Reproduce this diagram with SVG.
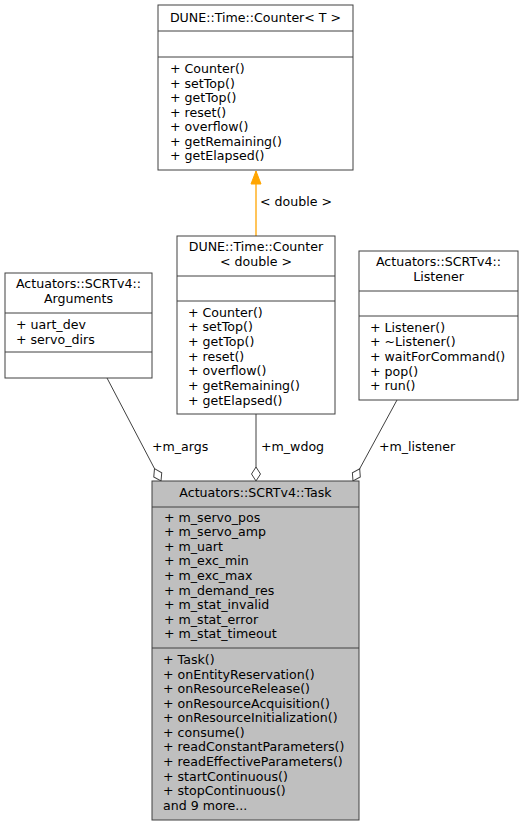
<svg xmlns="http://www.w3.org/2000/svg" width="523" height="827" viewBox="0 0 523 827">
<style>
text{font-family:"DejaVu Sans","Liberation Sans",sans-serif;font-size:12.6px;fill:#000}
.c{text-anchor:middle}
.box{fill:#fff;stroke:#404040;stroke-width:1}
.task{fill:#bfbfbf;stroke:#404040;stroke-width:1}
.sep{stroke:#404040;stroke-width:1}
.edge{fill:none;stroke:#404040;stroke-width:1}
.inh{fill:none;stroke:#ffa500;stroke-width:1.3}
</style>
<defs>
<marker id="odiamond" markerUnits="userSpaceOnUse" viewBox="-1 -1 16 12" markerWidth="16" markerHeight="12" refX="14" refY="5" orient="auto" overflow="visible">
<path d="M0,5 L7,0.5 L14,5 L7,9.5 Z" fill="#fff" stroke="#404040" stroke-width="1"/>
</marker>
<marker id="arr" markerUnits="userSpaceOnUse" viewBox="0 0 13 10" markerWidth="13" markerHeight="10" refX="13" refY="5" orient="auto" overflow="visible">
<path d="M0,0 L13,5 L0,10 Z" fill="#ffa500" stroke="#ffa500" stroke-width="1"/>
</marker>
</defs>

<g id="connectors">
<path class="inh" d="M256,236 L256,171" marker-end="url(#arr)"/>
<text x="260" y="206">&lt; double &gt;</text>
<path class="edge" d="M107,378 L161,481" marker-end="url(#odiamond)"/>
<text x="152" y="451">+m_args</text>
<path class="edge" d="M256,414 L256,481" marker-end="url(#odiamond)"/>
<text x="261" y="451">+m_wdog</text>
<path class="edge" d="M397,400 L353,481" marker-end="url(#odiamond)"/>
<text x="379" y="451">+m_listener</text>
</g>

<g id="counterT">
<rect class="box" x="158" y="5" width="195" height="165"/>
<line class="sep" x1="158" y1="31" x2="353" y2="31"/>
<line class="sep" x1="158" y1="57" x2="353" y2="57"/>
<text class="c" x="255.5" y="21.5">DUNE::Time::Counter&lt; T &gt;</text>
<text x="170" y="73">+ Counter()</text>
<text x="170" y="87.5">+ setTop()</text>
<text x="170" y="102">+ getTop()</text>
<text x="170" y="116.5">+ reset()</text>
<text x="170" y="131">+ overflow()</text>
<text x="170" y="145.5">+ getRemaining()</text>
<text x="170" y="160">+ getElapsed()</text>
</g>

<g id="counterDouble">
<rect class="box" x="177" y="236" width="158" height="178"/>
<line class="sep" x1="177" y1="276" x2="335" y2="276"/>
<line class="sep" x1="177" y1="301" x2="335" y2="301"/>
<text class="c" x="256" y="251">DUNE::Time::Counter</text>
<text class="c" x="256" y="266">&lt; double &gt;</text>
<text x="188" y="316.5">+ Counter()</text>
<text x="188" y="331.2">+ setTop()</text>
<text x="188" y="345.9">+ getTop()</text>
<text x="188" y="360.6">+ reset()</text>
<text x="188" y="375.3">+ overflow()</text>
<text x="188" y="390">+ getRemaining()</text>
<text x="188" y="404.7">+ getElapsed()</text>
</g>

<g id="arguments">
<rect class="box" x="5" y="273" width="147" height="105"/>
<line class="sep" x1="5" y1="313" x2="152" y2="313"/>
<line class="sep" x1="5" y1="352" x2="152" y2="352"/>
<text class="c" x="78.5" y="288">Actuators::SCRTv4::</text>
<text class="c" x="78.5" y="303">Arguments</text>
<text x="16" y="329">+ uart_dev</text>
<text x="16" y="343.5">+ servo_dirs</text>
</g>

<g id="listener">
<rect class="box" x="359" y="251" width="159" height="149"/>
<line class="sep" x1="359" y1="291" x2="518" y2="291"/>
<line class="sep" x1="359" y1="316" x2="518" y2="316"/>
<text class="c" x="438.5" y="266">Actuators::SCRTv4::</text>
<text class="c" x="438.5" y="280.5">Listener</text>
<text x="370" y="331.5">+ Listener()</text>
<text x="370" y="346.2">+ ~Listener()</text>
<text x="370" y="360.9">+ waitForCommand()</text>
<text x="370" y="375.6">+ pop()</text>
<text x="370" y="390.3">+ run()</text>
</g>

<g id="task">
<rect class="task" x="152" y="481" width="207" height="339"/>
<line class="sep" x1="152" y1="507" x2="359" y2="507"/>
<line class="sep" x1="152" y1="648" x2="359" y2="648"/>
<text class="c" x="255.5" y="496.5">Actuators::SCRTv4::Task</text>
<text x="164" y="521.7">+ m_servo_pos</text>
<text x="164" y="536.3">+ m_servo_amp</text>
<text x="164" y="550.8">+ m_uart</text>
<text x="164" y="565.4">+ m_exc_min</text>
<text x="164" y="580">+ m_exc_max</text>
<text x="164" y="594.6">+ m_demand_res</text>
<text x="164" y="609.1">+ m_stat_invalid</text>
<text x="164" y="623.7">+ m_stat_error</text>
<text x="164" y="638.3">+ m_stat_timeout</text>
<text x="163" y="664">+ Task()</text>
<text x="163" y="678.6">+ onEntityReservation()</text>
<text x="163" y="693.2">+ onResourceRelease()</text>
<text x="163" y="707.7">+ onResourceAcquisition()</text>
<text x="163" y="722.3">+ onResourceInitialization()</text>
<text x="163" y="736.9">+ consume()</text>
<text x="163" y="751.4">+ readConstantParameters()</text>
<text x="163" y="766">+ readEffectiveParameters()</text>
<text x="163" y="780.6">+ startContinuous()</text>
<text x="163" y="795.2">+ stopContinuous()</text>
<text x="163" y="809.7">and 9 more...</text>
</g>
</svg>
